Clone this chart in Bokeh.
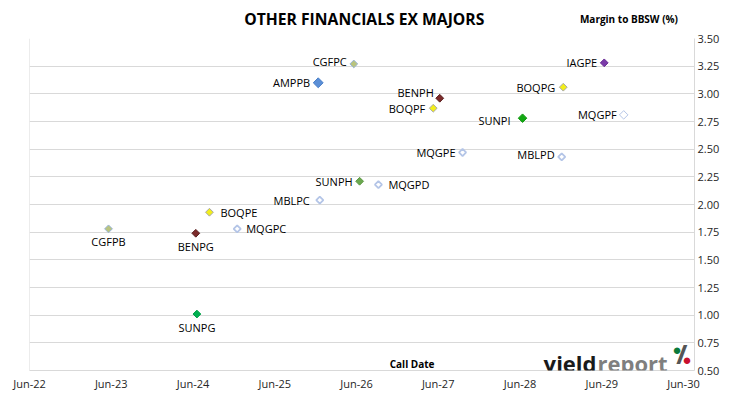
import datetime as dt
import numpy as np
from bokeh.plotting import figure
from bokeh.layouts import column
from bokeh.models import (ColumnDataSource, Range1d, FixedTicker, NumeralTickFormatter,
                          DatetimeTickFormatter, Label)
from bokeh.core.properties import value
from bokeh.embed import file_html
from bokeh.resources import INLINE

# ---------------- data ----------------
names = ["CGFPB", "BENPG", "SUNPG", "BOQPE", "MQGPC", "AMPPB", "MBLPC", "CGFPC", "SUNPH",
         "MQGPD", "BOQPF", "BENPH", "MQGPE", "SUNPI", "MBLPD", "BOQPG", "IAGPE", "MQGPF"]
call_dates = ["2023-05-20", "2024-06-13", "2024-06-18", "2024-08-13", "2024-12-15",
              "2025-12-12", "2025-12-19", "2026-05-20", "2026-06-15", "2026-09-07",
              "2027-05-10", "2027-06-08", "2027-09-18", "2028-06-12", "2028-12-04",
              "2028-12-11", "2029-06-12", "2029-09-07"]
margins = [1.78, 1.74, 1.01, 1.93, 1.78, 3.10, 2.04, 3.27, 2.21,
           2.18, 2.87, 2.96, 2.47, 2.78, 2.43, 3.06, 3.28, 2.81]
x_tick_labels = ["Jun-22", "Jun-23", "Jun-24", "Jun-25", "Jun-26", "Jun-27", "Jun-28", "Jun-29", "Jun-30"]
y_ticks = [0.50, 0.75, 1.00, 1.25, 1.50, 1.75, 2.00, 2.25, 2.50, 2.75, 3.00, 3.25, 3.50]
title_text = "OTHER FINANCIALS EX MAJORS"
y_title_text = "Margin to BBSW (%)"
x_title_text = "Call Date"

# ---------------- styles ----------------
HOLLOW = "#b4c5e7"
fill_colors = ["#b9c47f", "#7b2a2a", "#00b050", "#f2ee1c", "#ffffff", "#5b8fd6", "#ffffff", "#b9c47f", "#6aa84f",
               "#ffffff", "#f2ee1c", "#7b2a2a", "#ffffff", "#12a812", "#ffffff", "#f2ee1c", "#7a3aa8", "#ffffff"]
line_colors = ["#98b4da", "#5a1f1f", "#00a048", "#a8a8a8", HOLLOW, "#4a7fc9", HOLLOW, "#98b4da", "#5f9a45",
               HOLLOW, "#a8a8a8", "#5a1f1f", HOLLOW, "#109810", HOLLOW, "#a8a8a8", "#6a2c96", HOLLOW]
line_widths = [1, 1, 1, 1, 1.8, 1, 1.8, 1, 1, 1.8, 1, 1, 1.8, 1, 1.8, 1, 1, 1]
sizes = [5.5, 5.5, 5.5, 5.5, 5, 7, 5, 5.5, 5.5, 5, 5.5, 5.5, 5, 6, 5, 5.5, 5.5, 6]
# label placement: side, dx, dy (screen px, dy positive = down)
label_side = ["below", "below", "below", "right", "right", "left", "left", "left", "left",
              "right", "left", "left", "left", "left", "left", "left", "left", "left"]
label_dx = [0, 0, 0, 11, 9, -8, -10, -7, -7, 10, -8, -6, -7, -12, -7, -8, -7, -7]
label_dy = [13, 13, 13, 0, 0, 0, 0, -2, 0, 0, 0, -6, 0, 2, -2, 0, 0, 0]

FONT = "Open Sans"
GRID = "#d9d9d9"
W = 730
HEADER_H = 30
base = dt.datetime(2022, 6, 1)
Y0, Y1 = 0.5, 3.5


def yr(f):
    return base + dt.timedelta(days=365.25 * f)


def ms(d):
    return (d - dt.datetime(1970, 1, 1)).total_seconds() * 1000.0


xs = [dt.datetime.strptime(d, "%Y-%m-%d") for d in call_dates]
x_end = yr(8.135)

# ---------------- header (titles) ----------------
h = figure(width=W, height=HEADER_H, output_backend="svg", toolbar_location=None,
           x_range=Range1d(0, W), y_range=Range1d(0, HEADER_H),
           min_border=0, x_axis_location=None, y_axis_location=None)
h.outline_line_color = None
h.grid.visible = False
h.background_fill_color = "white"
h.border_fill_color = "white"
h.add_layout(Label(x=367.5, y=HEADER_H - 18, text=title_text, text_font=FONT,
                   text_font_size="15.7px", text_font_style="bold", text_align="center",
                   text_baseline="middle", text_color="#000000"))
h.add_layout(Label(x=658, y=HEADER_H - 18, text=y_title_text, text_font=FONT,
                   text_font_size="10px", text_font_style="bold", text_align="center",
                   text_baseline="middle", text_color="#000000"))

# ---------------- main chart ----------------
p = figure(width=W, height=399 - HEADER_H, output_backend="svg", toolbar_location=None,
           x_axis_type="datetime", y_axis_location="right",
           x_range=Range1d(base, x_end), y_range=Range1d(Y0, Y1),
           min_border_left=29, min_border_right=36, min_border_top=38 - HEADER_H,
           min_border_bottom=29)
p.background_fill_color = "white"
p.border_fill_color = "white"
p.outline_line_color = None
p.xgrid.visible = False
p.ygrid.grid_line_color = GRID
p.ygrid.grid_line_width = 1

p.xaxis.ticker = FixedTicker(ticks=[ms(dt.datetime(2022 + i, 6, 1)) for i in range(len(x_tick_labels))])
p.xaxis.formatter = DatetimeTickFormatter(days="%b-%y", months="%b-%y", years="%b-%y")
p.xaxis.axis_line_color = GRID
p.xaxis.major_tick_line_color = None
p.xaxis.minor_tick_line_color = None
p.xaxis.major_tick_out = 0
p.xaxis.major_tick_in = 0
p.xaxis.major_label_text_font = FONT
p.xaxis.major_label_text_font_size = "11px"
p.xaxis.major_label_text_color = "#262626"
p.xaxis.major_label_standoff = 5

p.yaxis.ticker = FixedTicker(ticks=y_ticks)
p.yaxis.formatter = NumeralTickFormatter(format="0.00")
p.yaxis.axis_line_color = GRID
p.yaxis.major_tick_line_color = None
p.yaxis.minor_tick_line_color = None
p.yaxis.major_tick_out = 0
p.yaxis.major_tick_in = 0
p.yaxis.major_label_text_font = FONT
p.yaxis.major_label_text_font_size = "11px"
p.yaxis.major_label_text_color = "#262626"
p.yaxis.major_label_standoff = 3

# left border of the plot area
p.segment(x0=[base], y0=[Y0], x1=[base], y1=[Y1], line_color=GRID, line_width=1)

src = ColumnDataSource(dict(x=xs, y=margins, name=names, fill=fill_colors, line=line_colors,
                            lw=line_widths, size=sizes))
p.scatter("x", "y", source=src, marker="square", angle=np.pi / 4, size="size",
          fill_color="fill", line_color="line", line_width="lw")

for side, align in (("left", "right"), ("right", "left"), ("below", "center")):
    idx = [i for i, s in enumerate(label_side) if s == side]
    s = ColumnDataSource(dict(x=[xs[i] for i in idx], y=[margins[i] for i in idx],
                              name=[names[i] for i in idx],
                              dx=[label_dx[i] for i in idx], dy=[label_dy[i] for i in idx]))
    p.text("x", "y", text="name", source=s, x_offset="dx", y_offset="dy",
           text_align=align, text_baseline="middle", text_font=value(FONT),
           text_font_size="11px", text_color="#000000")

p.add_layout(Label(x=yr(4.68), y=0.563, text=x_title_text,
                   text_font=FONT, text_font_size="10px", text_font_style="bold",
                   text_align="center", text_baseline="middle", text_color="#000000"))

# logo
p.add_layout(Label(x=yr(6.936), y=0.572, text="yield", text_font=FONT, text_font_size="22px",
                   text_font_style="bold", text_align="right", text_baseline="alphabetic",
                   text_color="#1a1a1a"))
p.add_layout(Label(x=yr(6.948), y=0.572, text="report", text_font=FONT, text_font_size="22px",
                   text_font_style="bold", text_align="left", text_baseline="alphabetic",
                   text_color="#7f7f7f"))
p.add_layout(Label(x=yr(7.98), y=0.65, text="/", text_font=FONT, text_font_size="27px",
                   text_font_style="bold", text_align="center", text_baseline="middle",
                   text_color="#555555"))
p.add_layout(Label(x=yr(7.92), y=0.695, text="●", text_font=FONT, text_font_size="15px",
                   text_align="center", text_baseline="middle", text_color="#0a7a3a"))
p.add_layout(Label(x=yr(8.045), y=0.6, text="●", text_font=FONT, text_font_size="15px",
                   text_align="center", text_baseline="middle", text_color="#c8102e"))

open("out.html", "w").write(file_html(column(h, p), INLINE))
